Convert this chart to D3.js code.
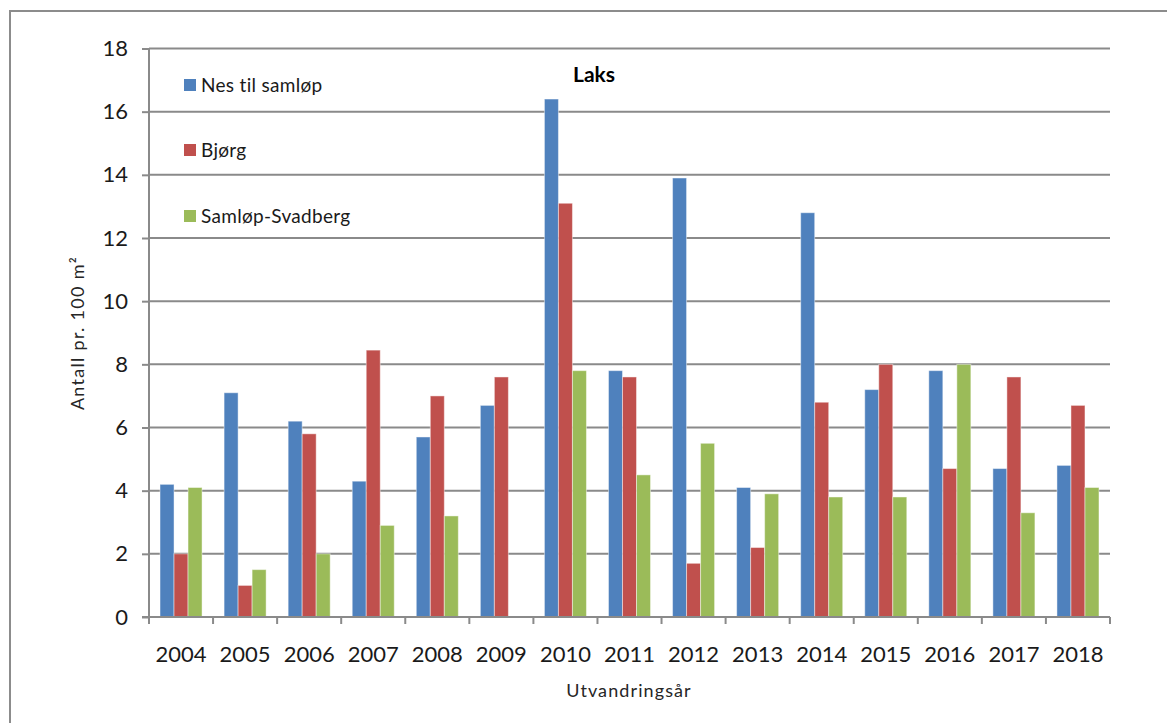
<!DOCTYPE html>
<html>
<head>
<meta charset="utf-8">
<script src="https://cdn.jsdelivr.net/npm/d3@7"></script>
<style>
  html, body { margin: 0; padding: 0; background: #fff; }
  svg { display: block; font-family: Lato, "Open Sans", sans-serif; }
</style>
</head>
<body>
<svg id="chart" width="1167" height="723"></svg>
<script>
const years = ["2004","2005","2006","2007","2008","2009","2010","2011","2012","2013","2014","2015","2016","2017","2018"];
const seriesNames = ["Nes til samløp", "Bjørg", "Samløp-Svadberg"];
const nesTilSamlop = [4.2, 7.1, 6.2, 4.3, 5.7, 6.7, 16.4, 7.8, 13.9, 4.1, 12.8, 7.2, 7.8, 4.7, 4.8];
const bjorg        = [2.0, 1.0, 5.8, 8.45, 7.0, 7.6, 13.1, 7.6, 1.7, 2.2, 6.8, 8.0, 4.7, 7.6, 6.7];
const samlopSvadberg = [4.1, 1.5, 2.0, 2.9, 3.2, 0, 7.8, 4.5, 5.5, 3.9, 3.8, 3.8, 8.0, 3.3, 4.1];
const yTicks = [0, 2, 4, 6, 8, 10, 12, 14, 16, 18];
const colors = ["#4F81BD", "#C0504D", "#9BBB59"];
const title = "Laks";
const yTitle = "Antall pr. 100 m²";
const xTitle = "Utvandringsår";

const seriesValues = [nesTilSamlop, bjorg, samlopSvadberg];

const svg = d3.select("#chart");
const plot = { left: 149, right: 1110, top: 48.5, bottom: 617 };

// outer chart border
svg.append("rect")
  .attr("x", 10).attr("y", 11)
  .attr("width", 1175).attr("height", 730)
  .attr("fill", "none").attr("stroke", "#8c8c8c").attr("stroke-width", 2);

const x0 = d3.scaleBand().domain(years).range([plot.left, plot.right]).paddingInner(0).paddingOuter(0);
const bw = x0.bandwidth();
const x1 = d3.scaleBand().domain(d3.range(seriesNames.length)).range([bw * 0.172, bw - bw * 0.172]).padding(0);
const y = d3.scaleLinear().domain([0, 18]).range([plot.bottom, plot.top]);

// gridlines
svg.append("g").selectAll("line").data(yTicks.filter(t => t > 0)).join("line")
  .attr("x1", plot.left).attr("x2", plot.right)
  .attr("y1", d => y(d)).attr("y2", d => y(d))
  .attr("stroke", "#8a8a8a").attr("stroke-width", 2);

// bars
const g = svg.append("g");
years.forEach((yr, i) => {
  seriesValues.forEach((vals, s) => {
    const v = vals[i];
    if (!v) return;
    g.append("rect")
      .attr("x", x0(yr) + x1(s))
      .attr("y", y(v))
      .attr("width", x1.bandwidth())
      .attr("height", y(0) - y(v))
      .attr("fill", colors[s])
      .attr("stroke", "rgba(255,255,255,0.45)")
      .attr("stroke-width", 1);
  });
});

// y axis
const yAxis = d3.axisLeft(y).tickValues(yTicks).tickSize(7).tickPadding(14).tickFormat(d3.format("d"));
const ya = svg.append("g").attr("transform", `translate(${plot.left},0)`).call(yAxis);
ya.select(".domain").attr("stroke", "#8a8a8a").attr("stroke-width", 2).attr("d", `M0,${plot.top}V${plot.bottom}`);
ya.selectAll(".tick line").attr("stroke", "#8a8a8a").attr("stroke-width", 2);
ya.selectAll(".tick text").attr("font-size", 22).attr("fill", "#1a1a1a").attr("font-family", "Lato, sans-serif");

// x axis
const xa = svg.append("g").attr("transform", `translate(0,${plot.bottom})`);
xa.append("line").attr("x1", plot.left - 7).attr("x2", plot.right)
  .attr("y1", 0).attr("y2", 0).attr("stroke", "#8a8a8a").attr("stroke-width", 2);
const boundaries = years.map(d => x0(d)).concat([plot.right]);
xa.selectAll("line.tk").data(boundaries).join("line").attr("class", "tk")
  .attr("x1", d => d).attr("x2", d => d).attr("y1", 0).attr("y2", 7)
  .attr("stroke", "#8a8a8a").attr("stroke-width", 2);
xa.selectAll("text").data(years).join("text")
  .attr("x", d => x0(d) + bw / 2)
  .attr("y", 45)
  .attr("text-anchor", "middle")
  .attr("font-size", 22)
  .attr("fill", "#1a1a1a")
  .text(d => d);

// axis titles
svg.append("text").attr("x", 629).attr("y", 697).attr("text-anchor", "middle")
  .attr("font-size", 18).attr("letter-spacing", 1.1).attr("fill", "#262626").text(xTitle);
svg.append("text").attr("transform", "translate(84,333) rotate(-90)").attr("text-anchor", "middle")
  .attr("font-size", 18).attr("letter-spacing", 1.3).attr("fill", "#262626").text(yTitle);

// title
svg.append("text").attr("x", 594).attr("y", 82).attr("text-anchor", "middle")
  .attr("font-size", 21).attr("font-weight", "bold").attr("fill", "#000").text(title);

// legend
const legendY = [85, 150, 216];
const lg = svg.append("g");
seriesNames.forEach((name, i) => {
  lg.append("rect").attr("x", 184).attr("y", legendY[i] - 6).attr("width", 12).attr("height", 12).attr("fill", colors[i]);
  lg.append("text").attr("x", 201).attr("y", legendY[i]).attr("dy", "0.35em")
    .attr("font-size", 19).attr("letter-spacing", 0.3).attr("fill", "#1a1a1a").text(name);
});
</script>
</body>
</html>
